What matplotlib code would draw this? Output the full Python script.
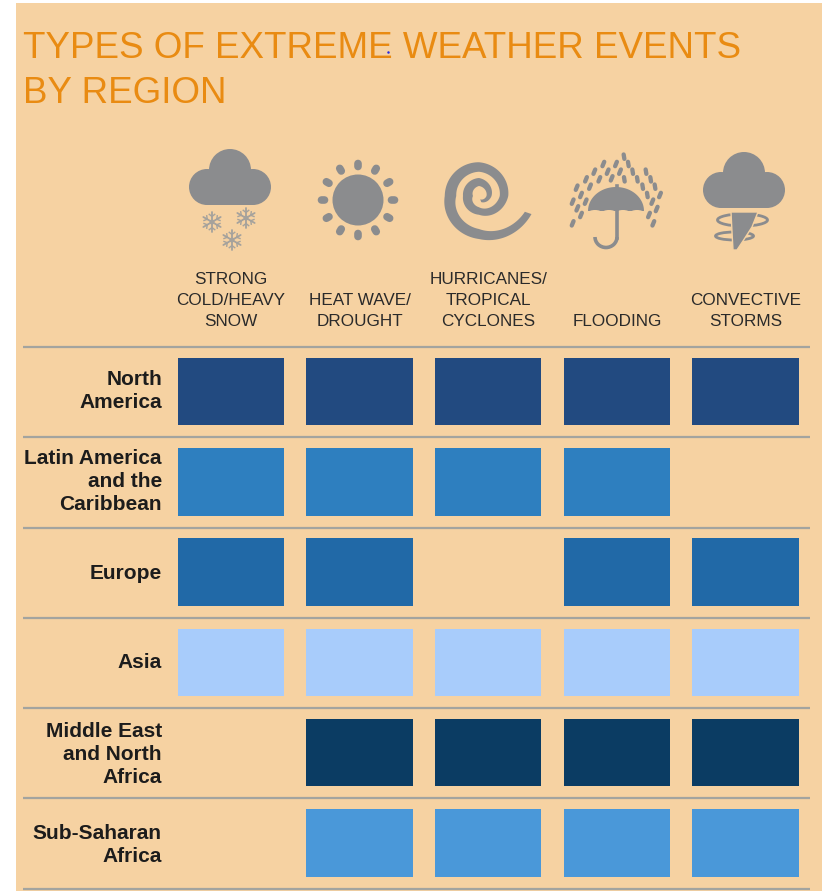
import matplotlib
matplotlib.use('Agg')
import matplotlib.pyplot as plt
from matplotlib.patches import Rectangle, Circle, Ellipse, Arc, Polygon
import numpy as np

plt.rcParams['font.family'] = ['Liberation Sans', 'DejaVu Sans']

title = 'TYPES OF EXTREME WEATHER EVENTS\nBY REGION'
events = ['STRONG\nCOLD/HEAVY\nSNOW', 'HEAT WAVE/\nDROUGHT', 'HURRICANES/\nTROPICAL\nCYCLONES',
          'FLOODING', 'CONVECTIVE\nSTORMS']
regions = ['North\nAmerica', 'Latin America\nand the\nCaribbean', 'Europe', 'Asia',
           'Middle East\nand North\nAfrica', 'Sub-Saharan\nAfrica']
region_colors = ['#224a80', '#2e7fbf', '#2169a7', '#a8ccfb', '#0b3c63', '#4a98d9']
present = [[1, 1, 1, 1, 1],
           [1, 1, 1, 1, 0],
           [1, 1, 0, 1, 1],
           [1, 1, 1, 1, 1],
           [0, 1, 1, 1, 1],
           [0, 1, 1, 1, 1]]

W, H = 825, 891
BG = '#f6d2a2'
GREY = '#8b8c8e'
fig = plt.figure(figsize=(W / 100, H / 100), dpi=100, facecolor='white')


def px_ax(left, top, right, bottom):
    return fig.add_axes([left / W, 1 - bottom / H, (right - left) / W, (bottom - top) / H])


# background layer in pixel coords, used for the panel, title and icons
bg = px_ax(0, 0, W, H)
bg.set_xlim(0, W)
bg.set_ylim(H, 0)
bg.axis('off')
bg.add_patch(Rectangle((16, 3), 806, 888, fc=BG, ec='none'))
bg.text(23, 58, title.split('\n')[0], fontsize=26.5, color='#e98b12', ha='left', va='baseline')
bg.text(23, 103, title.split('\n')[1], fontsize=26.5, color='#e98b12', ha='left', va='baseline')
bg.plot([388], [52], marker='o', ms=1.8, color='#2a2ae0', mec='none')


def cloud(dx, dy):
    bg.add_patch(Circle((230 + dx, 170 + dy), 21, fc=GREY, ec='none'))
    bg.add_patch(Circle((207 + dx, 187 + dy), 18, fc=GREY, ec='none'))
    bg.add_patch(Circle((253 + dx, 187 + dy), 18, fc=GREY, ec='none'))
    bg.add_patch(Rectangle((207 + dx, 172 + dy), 46, 33, fc=GREY, ec='none'))


def flake(cx, cy, r=10):
    c = '#a5a29c'
    for a in np.radians([90, 30, 150]):
        ux, uy = np.cos(a), np.sin(a)
        bg.plot([cx - r * ux, cx + r * ux], [cy - r * uy, cy + r * uy], color=c, lw=1.3,
                solid_capstyle='round')
        for s in (-1, 1):
            for b in (a + 0.9, a - 0.9):
                bx, by = cx + s * r * 0.55 * ux, cy + s * r * 0.55 * uy
                bg.plot([bx, bx + s * 3.5 * np.cos(b)], [by, by + s * 3.5 * np.sin(b)], color=c, lw=1)
    bg.add_patch(Circle((cx, cy), 2.5, fc=c, ec='none'))


# snow
cloud(0, 0)
flake(212, 222)
flake(246, 218)
flake(232, 240)

# sun
bg.add_patch(Circle((358, 200), 25.5, fc=GREY, ec='none'))
for a in np.radians(np.arange(0, 360, 30)):
    bg.plot([358 + 33.5 * np.cos(a), 358 + 36.5 * np.cos(a)], [200 + 33.5 * np.sin(a), 200 + 36.5 * np.sin(a)],
            color=GREY, lw=5.5, solid_capstyle='round', snap=False)

# spiral, traced from the tail inwards
sp_ang = [19, 90, 180, 270, 360, 450, 540, 630, 720, 790]
sp_rad = [52, 38, 28.5, 29, 25, 15, 11, 14, 10, 5]
sp_wid = [7, 10, 11.5, 9.5, 8.5, 7.5, 10, 8, 5, 3]
ang = np.linspace(19, 790, 400)
th = np.radians(ang)
rad = np.interp(ang, sp_ang, sp_rad)
wid = np.interp(ang, sp_ang, sp_wid)
outer = np.c_[479 + (rad + wid / 2) * np.cos(th), 196 + (rad + wid / 2) * np.sin(th)]
inner = np.c_[479 + (rad - wid / 2) * np.cos(th), 196 + (rad - wid / 2) * np.sin(th)]
bg.add_patch(Polygon(np.r_[outer, inner[::-1]], fc=GREY, ec='none'))

# umbrella and rain
bg.add_patch(Arc((606, 237), 22, 21, theta1=0, theta2=180, angle=0, color=GREY, lw=2.6))
t = np.radians(np.linspace(180, 360, 60))
bg.add_patch(Polygon(np.c_[616 + 28 * np.cos(t), 211 + 24 * np.sin(t)], fc=GREY, ec='none'))
for sx in (595, 609, 623, 637):
    bg.add_patch(Ellipse((sx, 212.5), 13, 5, fc=BG, ec='none'))
bg.plot([617, 617], [186, 238], color=GREY, lw=2.6)
drops = [(192, 35), (130, 57), (168, 57), (205, 57), (103, 80), (143, 80), (180, 80), (218, 80), (258, 80),
         (78, 103), (118, 103), (155, 100), (193, 103), (232, 103), (272, 103), (50, 128), (90, 125),
         (248, 125), (285, 125), (63, 150), (262, 150), (300, 150), (38, 170), (77, 170), (277, 170),
         (52, 190), (290, 192), (63, 210), (267, 210), (38, 235), (280, 235)]
for x, y in drops:
    px, py = 560 + x / 3, 145 + y / 3
    s = -0.4 if (x >= 190 and y < 160 and x != 300) else 1
    bg.plot([px - 0.9 * s, px + 0.9 * s], [py + 2.2, py - 2.2], color=GREY, lw=3.1,
            solid_capstyle='round', snap=False)

# tornado
cloud(514, 3)
bg.add_patch(Ellipse((742.5, 220), 50, 12, fc='none', ec=GREY, lw=2))
bg.add_patch(Ellipse((734.5, 236), 38, 8, fc='none', ec=GREY, lw=2))
bg.add_patch(Polygon([(731, 212), (758, 212), (752, 227), (743, 241), (737, 250), (733, 250), (732, 232)],
                     fc=GREY, ec=BG, lw=1))

# table of regions and events
ax = px_ax(166.75, 347, 809.75, 888.6)
ax.patch.set_alpha(0)
for r, row in enumerate(present):
    cols = [c for c, v in enumerate(row) if v]
    ax.bar(cols, [0.747] * len(cols), bottom=[r - 0.379] * len(cols), width=0.828, color=region_colors[r])
ax.set_xlim(-0.5, 4.5)
ax.set_ylim(5.5, -0.5)
for y in np.arange(-0.5, 6):
    ax.plot([-1.62, 4.5], [y, y], color='#a3a49f', lw=1.6, clip_on=False, solid_capstyle='butt')
for s in ax.spines.values():
    s.set_visible(False)
ax.xaxis.tick_top()
ax.set_xticks(range(len(events)))
ax.set_xticklabels(events, fontsize=12.3, color='#2a2a2a', linespacing=1.51)
ax.set_yticks([])
# small nudges so each label lands where it does in the original
label_shift = [1, 0.5, -1, 0, -1, -2]
for r, name in enumerate(regions):
    ax.annotate(name, xy=(-0.5, r), xytext=(-3.5, label_shift[r] * 0.72), textcoords='offset points',
                ha='right', va='center', multialignment='right', fontsize=15, fontweight='bold',
                color='#1c1c1c', linespacing=1.27, annotation_clip=False)
ax.tick_params(axis='x', length=0, pad=13)

fig.savefig('out.png', dpi=100)
